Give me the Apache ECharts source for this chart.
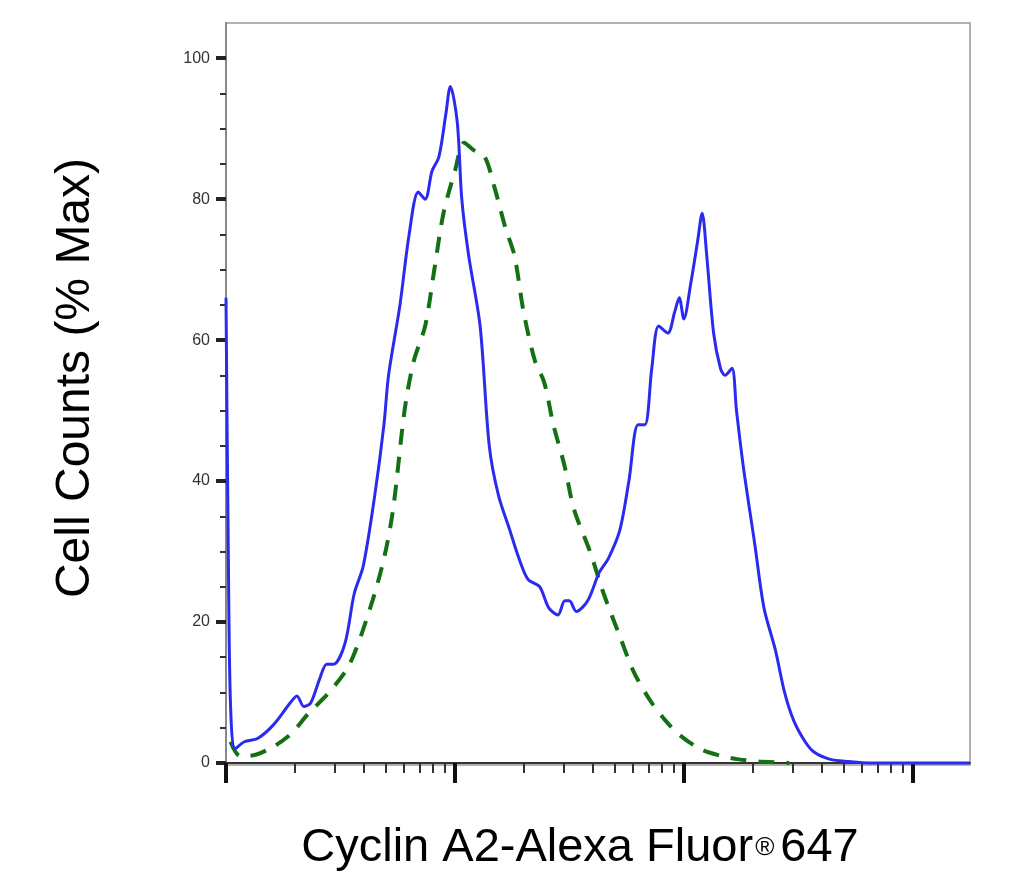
<!DOCTYPE html>
<html><head><meta charset="utf-8">
<script src="https://cdn.jsdelivr.net/npm/echarts@6/dist/echarts.min.js"></script>
<style>html,body{margin:0;padding:0;background:#fff}#c{width:1031px;height:886px}</style>
</head><body><div id="c"></div>
<script>
// x in log decades (0 = first major tick)
const blueX = [0.00,0.01,0.02,0.04,0.08,0.14,0.21,0.28,0.31,0.34,0.37,0.41,0.44,0.47,0.52,0.56,0.60,0.65,0.69,0.71,0.76,0.80,0.84,0.87,0.90,0.93,0.96,0.98,1.01,1.03,1.06,1.11,1.15,1.19,1.24,1.28,1.32,1.37,1.41,1.45,1.48,1.50,1.53,1.58,1.63,1.67,1.72,1.76,1.80,1.83,1.86,1.89,1.93,1.96,1.98,2.00,2.03,2.06,2.08,2.10,2.13,2.16,2.18,2.21,2.23,2.26,2.31,2.35,2.40,2.44,2.48,2.53,2.57,2.64,2.72,2.81,3.25];
const blueY = [66,30,8,2,3,3.5,5.5,8.5,9.5,8,8.5,12,14,14,17,24,28,38,48,55,65,75,81,80,84,86,92,96,91,80,72,62,45,38,33,29,26,25,22,21,23,23,21.5,23,27,29,33,40,48,48,56,62,61,64,66,63,68,74,78,72,61,56,55,56,50,42,31,22,16,10,6,3,1.5,0.5,0.2,0,0];
const greenX = [0.02,0.06,0.10,0.19,0.28,0.36,0.45,0.54,0.63,0.69,0.73,0.78,0.82,0.87,0.91,0.95,1.00,1.04,1.08,1.13,1.17,1.22,1.26,1.30,1.35,1.39,1.43,1.48,1.52,1.59,1.65,1.72,1.78,1.85,1.92,1.98,2.07,2.16,2.24,2.33,2.46];
const greenY = [3,1,1,2,4,7,10,14,22,29,36,50,57,62,70,78,84,88,87,86,82,76,72,64,57,54,48,42,36,30,24,18,13,9,6,4,2,1,0.5,0.2,0];
const yMajor = [0,20,40,60,80,100];
const xMajor = [0,1,2,3];

const xMinor = [];
for (let d=0; d<4; d++) for (let k=2; k<=9; k++) { const v = d + Math.log10(k); if (v < 3.25) xMinor.push(+v.toFixed(4)); }
const yMinor = [];
for (let v=5; v<=100; v+=5) if (v%20) yMinor.push(v);

const chart = echarts.init(document.getElementById('c'));
const zip = (a,b)=>a.map((v,i)=>[v,b[i]]);
chart.setOption({
  animation:false,
  grid:{left:226,top:23,right:61,bottom:121,show:true,borderColor:'#999',borderWidth:1.5},
  xAxis:[
    {type:'value',min:0,max:3.25,axisLine:{lineStyle:{color:'#333',width:2}},splitLine:{show:false},
     axisTick:{customValues:xMajor,length:20,lineStyle:{color:'#111',width:4}},axisLabel:{show:false}},
    {type:'value',min:0,max:3.25,position:'bottom',axisLine:{show:false},splitLine:{show:false},
     axisTick:{customValues:xMinor,length:10,lineStyle:{color:'#333',width:2}},axisLabel:{show:false}}
  ],
  yAxis:[
    {type:'value',min:-0.3,max:105,axisLine:{show:true,lineStyle:{color:'#888',width:2}},splitLine:{show:false},
     axisTick:{customValues:yMajor,length:10,lineStyle:{color:'#222',width:4}},
     axisLabel:{customValues:yMajor,color:'#333',fontSize:16,fontFamily:'Liberation Sans',margin:16}},
    {type:'value',min:-0.3,max:105,position:'left',axisLine:{show:false},splitLine:{show:false},
     axisTick:{customValues:yMinor,length:6,lineStyle:{color:'#333',width:2}},axisLabel:{show:false}}
  ],
  series:[
    {type:'line',data:zip(greenX,greenY),showSymbol:false,smooth:0.3,lineStyle:{color:'#137013',width:4,type:[16,12]}},
    {type:'line',data:zip(blueX,blueY),showSymbol:false,smooth:0.3,lineStyle:{color:'#2b2bef',width:3}}
  ],
  graphic:[
    {type:'text',x:76,y:378,rotation:Math.PI/2,style:{text:'Cell Counts (% Max)',font:'48px "Liberation Sans", Arial',fill:'#000',align:'center',verticalAlign:'middle'}},
    {type:'text',x:580,y:848,style:{text:'{a|Cyclin A2-Alexa Fluor}{r|®}{a|647}',align:'center',verticalAlign:'middle',
      rich:{a:{font:'47px "Liberation Sans", Arial',fill:'#000'},r:{font:'26px "Liberation Sans", Arial',fill:'#000',verticalAlign:'middle',padding:[0,6,0,2]}}}}
  ]
});
</script></body></html>
